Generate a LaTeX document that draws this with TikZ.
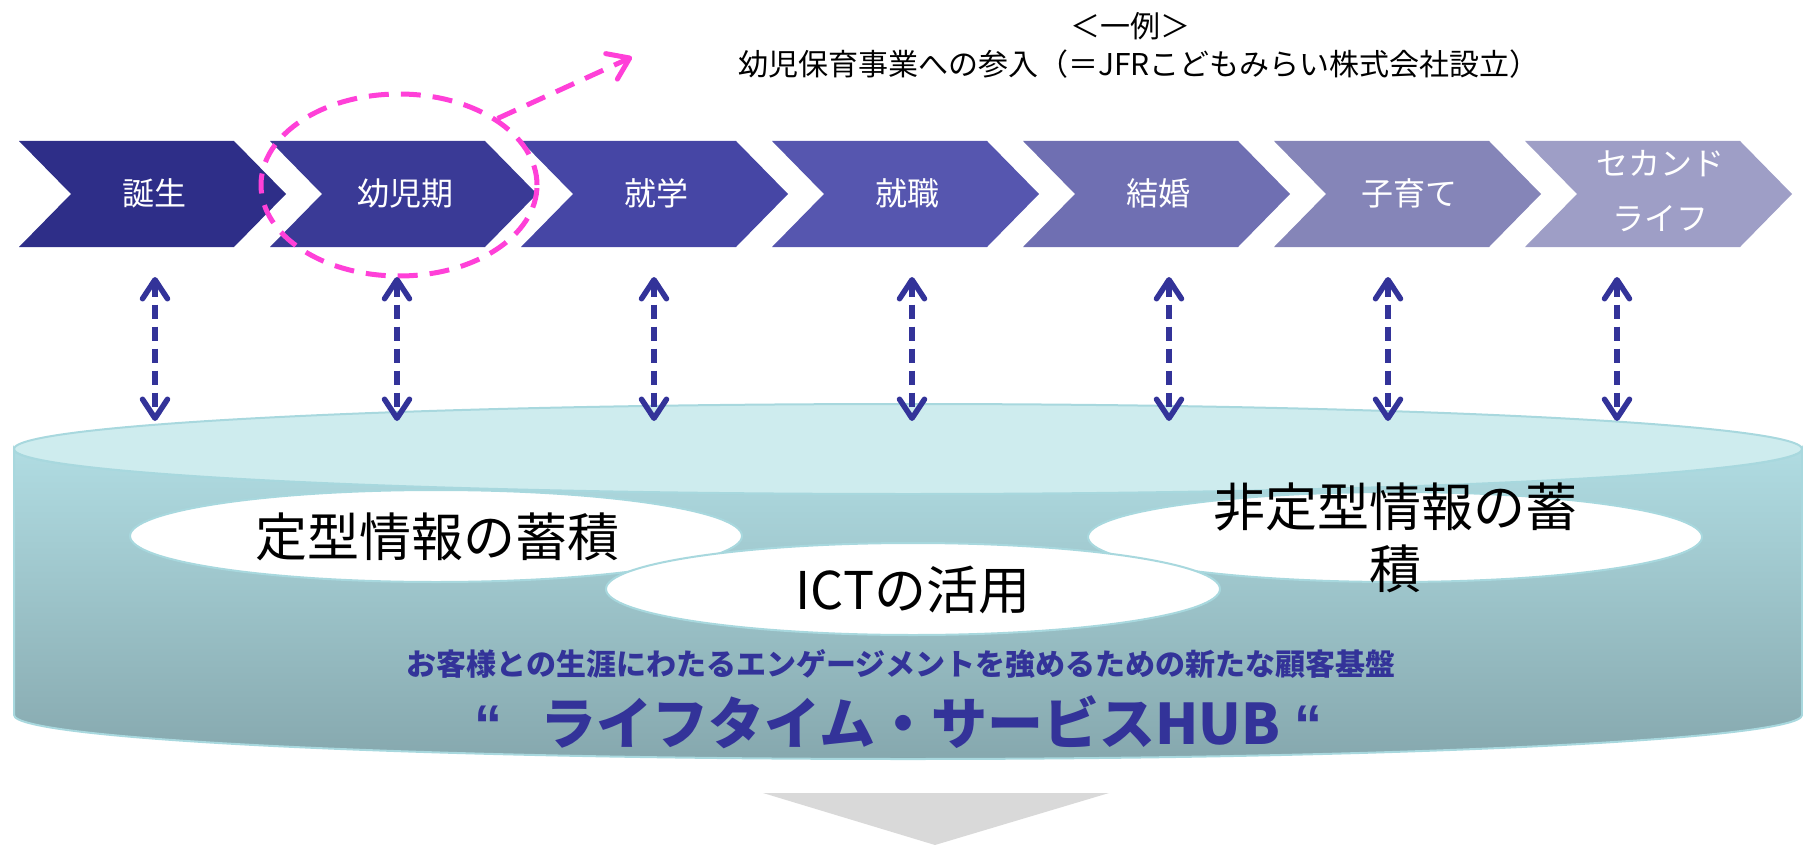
\documentclass[tikz,border=0pt]{standalone}
\usepackage{fontspec}
\newfontfamily\jp{Noto Sans CJK JP}
\newfontfamily\lib{Liberation Sans}
\usetikzlibrary{arrows.meta,shapes.geometric}
\definecolor{cA}{RGB}{46,46,136}
\definecolor{cB}{RGB}{58,58,150}
\definecolor{cC}{RGB}{70,70,165}
\definecolor{cD}{RGB}{86,86,175}
\definecolor{cE}{RGB}{111,111,178}
\definecolor{cF}{RGB}{133,133,184}
\definecolor{cG}{RGB}{158,158,198}
\definecolor{hubblue}{RGB}{51,51,153}
\definecolor{pinkd}{RGB}{255,64,216}
\definecolor{cyltop}{RGB}{206,236,238}
\definecolor{cylsideA}{RGB}{176,220,226}
\definecolor{cylsideB}{RGB}{134,168,174}
\definecolor{cyledge}{RGB}{168,216,222}
\definecolor{grayarrow}{RGB}{217,217,217}
\tikzset{
  chevlabel/.style={text=white, font=\jp\fontsize{32}{55}\selectfont, align=center, inner sep=0pt},
  wellipse/.style={ellipse, fill=white, draw=cyledge, line width=2pt, inner sep=0pt},
  bigtext/.style={font=\jp\fontsize{52}{62}\selectfont, align=center, inner sep=0pt},
  toptext/.style={font=\jp\fontsize{30}{36}\selectfont, inner sep=0pt},
  subtext/.style={font=\jp\bfseries\fontsize{30}{36}\selectfont, text=hubblue, inner sep=0pt},
  titletext/.style={font=\jp\bfseries\fontsize{56}{64}\selectfont, text=hubblue, inner sep=0pt},
  quotetext/.style={font=\lib\bfseries\fontsize{56}{64}\selectfont, text=hubblue, inner sep=0pt},
  duplex/.style={draw=hubblue, line width=5.5pt, dash pattern=on 14pt off 8pt,
    {Straight Barb[length=19pt,width=25pt,round]}-{Straight Barb[length=19pt,width=25pt,round]}},
  pinkring/.style={ellipse, draw=pinkd, line width=5pt, dash pattern=on 20pt off 12pt, inner sep=0pt},
  pinkarrow/.style={draw=pinkd, line width=5pt, dash pattern=on 20pt off 12pt,
    -{Straight Barb[length=20pt,width=28pt,round]}},
}
\begin{document}
\begin{tikzpicture}[x=1pt,y=-1pt]
\useasboundingbox (0,0) rectangle (1803,845);
% chevrons
\foreach \x/\c in {19/cA,270/cB,521/cC,772/cD,1023/cE,1274/cF,1525/cG}{
  \fill[\c] (\x,141) -- ++(215,0) -- ++(52,53) -- ++(-52,53) -- ++(-215,0) -- ++(52,-53) -- cycle;
}
\node[chevlabel] (c1) at (154,193) {誕生};
\node[chevlabel] (c2) at (405,193) {幼児期};
\node[chevlabel] (c3) at (656,193) {就学};
\node[chevlabel] (c4) at (907,193) {就職};
\node[chevlabel] (c5) at (1158,193) {結婚};
\node[chevlabel] (c6) at (1409,193) {子育て};
\node[chevlabel] (c7) at (1660,191) {セカンド\\ライフ};
% top texts
\node[toptext] (ex1) at (1130,26) {＜一例＞};
\node[toptext] (ex2) at (1139,64) {幼児保育事業への参入（＝JFRこどもみらい株式会社設立）};
% pink ring and arrow
\node[pinkring, minimum width=276pt, minimum height=182pt] (ring) at (399,185) {};
\coordinate (ptip) at (632,57);
\draw[pinkarrow] (ring.34) -- (ptip);
% cylinder
\path[draw=cyledge, line width=2pt, top color=cylsideA, bottom color=cylsideB]
  (14,449) -- (14,715) arc[start angle=180, end angle=0, x radius=894, y radius=44]
  -- (1802,449) arc[start angle=0, end angle=180, x radius=894, y radius=45] -- cycle;
\node[ellipse, fill=cyltop, draw=cyledge, line width=2pt, minimum width=1788pt, minimum height=90pt, inner sep=0pt] (cyl) at (908,449) {};
% white ellipses
\node[wellipse, minimum width=612pt, minimum height=92pt] (e1) at (436,536) {};
\node[wellipse, minimum width=614pt, minimum height=90pt] (e3) at (1395,537) {};
\node[wellipse, minimum width=614pt, minimum height=92pt] (e2) at (913,589) {};
\node[bigtext] (t1) at (437,537) {定型情報の蓄積};
\node[bigtext] (t2) at (913,590) {ICTの活用};
\node[bigtext] (t3) at (1395,538) {非定型情報の蓄\\積};
% captions
\node[subtext] (sub) at (901,664) {お客様との生涯にわたるエンゲージメントを強めるための新たな顧客基盤};
\node[titletext, anchor=base] (hub) at (910,744) {ライフタイム・サービスHUB};
\node[quotetext, anchor=base] (q1) at (488,744) {“};
\node[quotetext, anchor=base] (q2) at (1308,744) {“};
% dashed double arrows
\foreach \i/\x in {1/155,2/397,3/654,4/912,5/1169,6/1388,7/1617}{
  \coordinate (u\i) at (\x,277);
  \coordinate (d\i) at (\x,421);
  \draw[duplex] (u\i) -- (d\i);
}
% gray arrow
\fill[grayarrow] (763,793) -- (1109,793) -- (935,845) -- cycle;
\end{tikzpicture}
\end{document}
